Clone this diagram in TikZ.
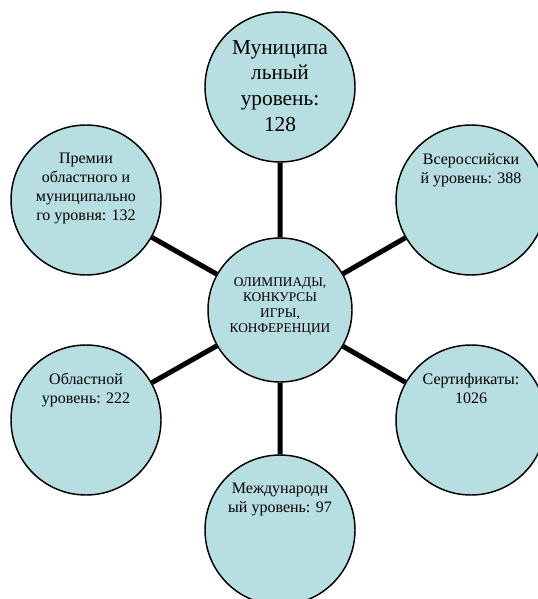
\documentclass[tikz,border=0pt]{standalone}
\usepackage{fontspec}
\setmainfont{Liberation Serif}
\usetikzlibrary{positioning}
\definecolor{bubblefill}{RGB}{183,222,225}

\begin{document}
\begin{tikzpicture}[x=0.75pt,y=-0.75pt,
                    spoke/.style={line width=3.75pt,draw=black},
                    caption/.style={anchor=north,align=center,inner sep=0pt,text=black,
                                    execute at begin node=\strut,
                                    font=\fontsize{12}{14.2}\selectfont}]
				\tikzstyle{bubble}=[circle,draw=black,line width=1.1pt,fill=bubblefill,
				                    inner sep=0pt,minimum size=112.5pt]
				\tikzstyle{hub}=[bubble,minimum size=108pt]

				\useasboundingbox (0,0) rectangle (537,599);

				\node[hub]		(C)	at (280,310)	{};
				\node[bubble]	(N)	at (280,87)	{};
				\node[bubble]	(NW)	at (86,200)	{};
				\node[bubble]	(NE)	at (471,200)	{};
				\node[bubble]	(SW)	at (86,420)	{};
				\node[bubble]	(SE)	at (471,420)	{};
				\node[bubble]	(S)	at (280,530)	{};

				\path[spoke]	(C) -- (N)
						(C) -- (NW)
						(C) -- (NE)
						(C) -- (SW)
						(C) -- (SE)
						(C) -- (S);

				\node[caption,font=\fontsize{10}{11.5}\selectfont]	(C-text)	at ([yshift=-30pt]C.north)
					{ОЛИМПИАДЫ,\\КОНКУРСЫ\\ИГРЫ,\\КОНФЕРЕНЦИИ};
				\node[caption,font=\fontsize{16}{19.3}\selectfont]	(N-text)	at ([yshift=-21.5pt]N.north)
					{Муниципа\\льный\\уровень:\\128};
				\node[caption]	(NW-text)	at ([yshift=-21.5pt]NW.north)
					{Премии\\областного и\\муниципально\\го уровня: 132};
				\node[caption]	(NE-text)	at ([yshift=-21.5pt]NE.north)
					{Всероссийски\\й уровень: 388};
				\node[caption]	(SW-text)	at ([yshift=-21.5pt]SW.north)
					{Областной\\уровень: 222};
				\node[caption]	(SE-text)	at ([yshift=-21.5pt]SE.north)
					{Сертификаты:\\1026};
				\node[caption]	(S-text)	at ([yshift=-21.5pt]S.north)
					{Международн\\ый уровень: 97};
\end{tikzpicture}
\end{document}
